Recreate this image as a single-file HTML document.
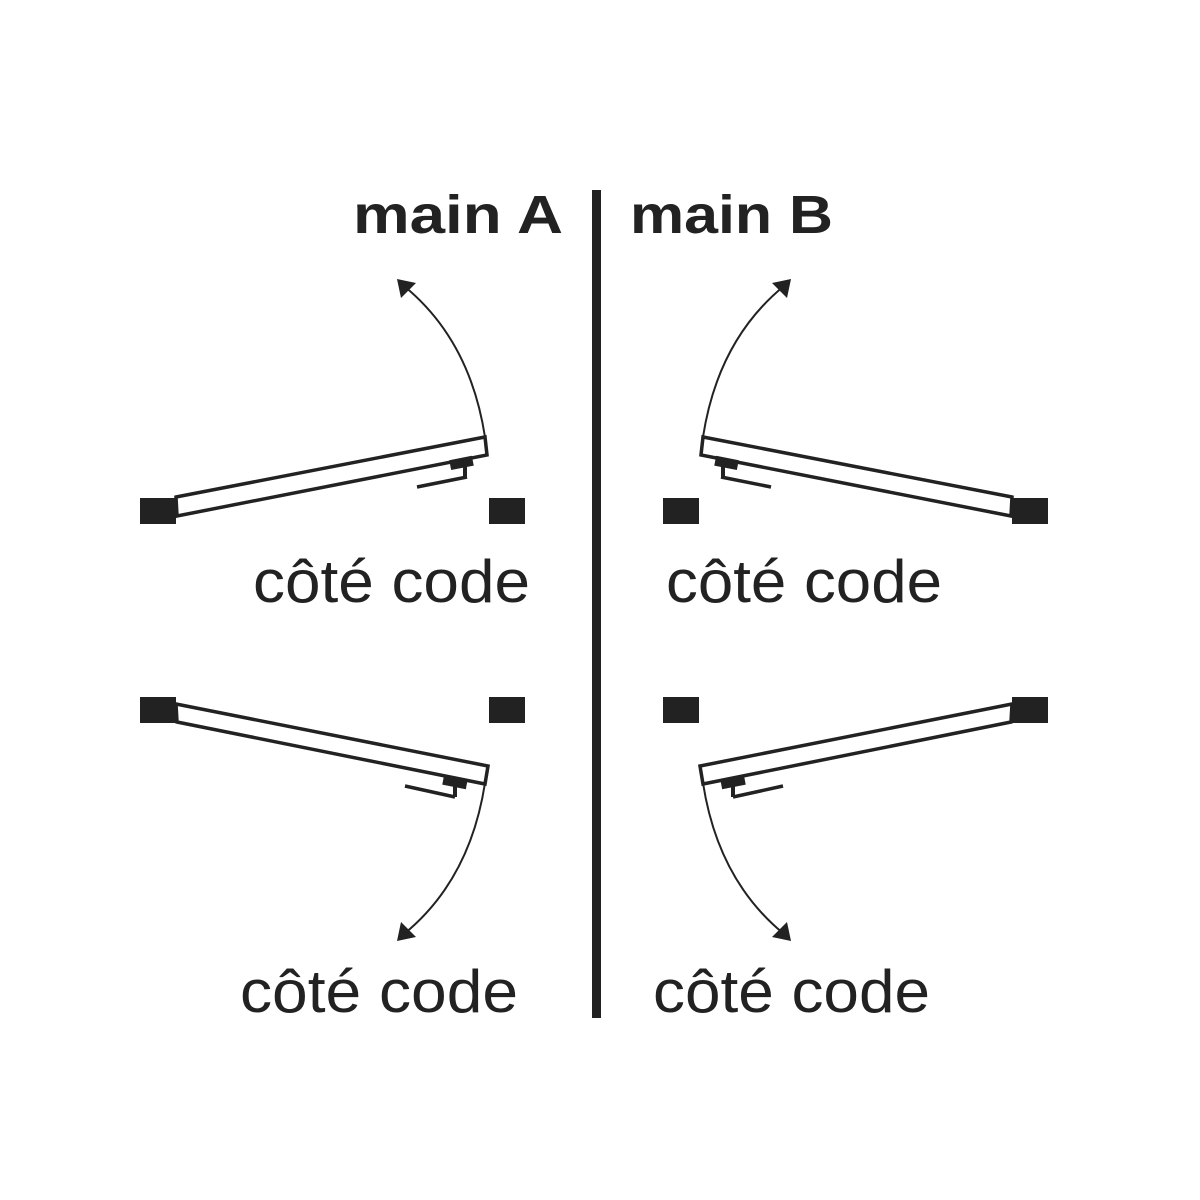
<!DOCTYPE html>
<html><head><meta charset="utf-8"><style>
html,body{margin:0;padding:0;background:#fff;width:1200px;height:1200px;overflow:hidden}
</style></head><body>
<svg width="1200" height="1200" viewBox="0 0 1200 1200" xmlns="http://www.w3.org/2000/svg">
<defs>
<g id="topdoor">
  <rect x="140" y="498" width="36" height="26" fill="#222"/>
  <rect x="489" y="498" width="36" height="26" fill="#222"/>
  <polygon points="176,497 485,437 487,455 177,516" fill="#fff" stroke="#222" stroke-width="3.5"/>
  <rect x="450" y="458" width="23" height="10" fill="#222" transform="rotate(-11 461 463)"/>
  <rect x="463" y="466" width="4" height="11" fill="#222"/>
  <line x1="417" y1="487" x2="467" y2="477" stroke="#222" stroke-width="3.5"/>
  <path d="M485,437 Q470,340 404,286" fill="none" stroke="#222" stroke-width="2"/>
  <polygon points="397,279 416,283 401,298" fill="#222"/>
</g>
<g id="botdoor">
  <rect x="140" y="697" width="36" height="26" fill="#222"/>
  <rect x="489" y="697" width="36" height="26" fill="#222"/>
  <polygon points="176,704 488,766 485,784 177,722" fill="#fff" stroke="#222" stroke-width="3.5"/>
  <rect x="443" y="777" width="24" height="10" fill="#222" transform="rotate(11 455 782)"/>
  <rect x="453" y="786" width="4" height="11" fill="#222"/>
  <line x1="405" y1="786" x2="455" y2="797" stroke="#222" stroke-width="3.5"/>
  <path d="M485,783 Q470,880 404,934" fill="none" stroke="#222" stroke-width="2"/>
  <polygon points="397,941 401,922 416,937" fill="#222"/>
</g>
</defs>
<use href="#topdoor"/>
<use href="#botdoor"/>
<g transform="translate(1188,0) scale(-1,1)">
  <use href="#topdoor"/>
  <use href="#botdoor"/>
</g>
<rect x="592" y="190" width="9" height="828" fill="#222"/>
<g font-family="Liberation Sans, sans-serif" fill="#222">
  <text x="353" y="233" font-size="54" font-weight="bold" textLength="210" lengthAdjust="spacingAndGlyphs">main A</text>
  <text x="630" y="233" font-size="54" font-weight="bold" textLength="203" lengthAdjust="spacingAndGlyphs">main B</text>
  <text x="253" y="602" font-size="60" textLength="277" lengthAdjust="spacingAndGlyphs">côté code</text>
  <text x="666" y="602" font-size="60" textLength="276" lengthAdjust="spacingAndGlyphs">côté code</text>
  <text x="240" y="1012" font-size="60" textLength="278" lengthAdjust="spacingAndGlyphs">côté code</text>
  <text x="653" y="1012" font-size="60" textLength="277" lengthAdjust="spacingAndGlyphs">côté code</text>
</g>
</svg>
</body></html>
